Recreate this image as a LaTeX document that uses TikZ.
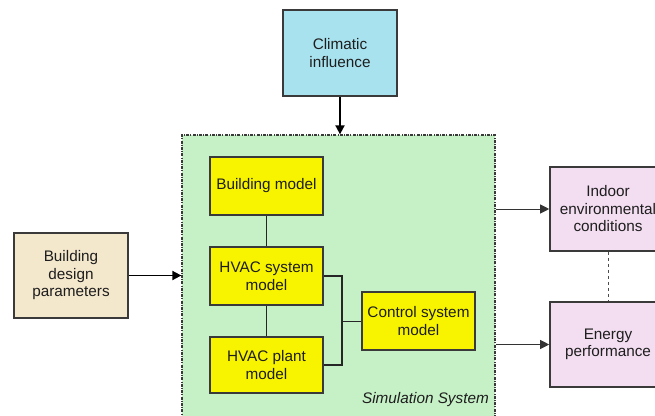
\documentclass[tikz,border=0pt]{standalone}
\usepackage{fontspec}
\setmainfont{Liberation Sans}
\usetikzlibrary{arrows.meta}
\definecolor{climfill}{HTML}{A8E2EE}
\definecolor{bdpfill}{HTML}{F3E7CC}
\definecolor{simfill}{HTML}{C6F0C6}
\definecolor{ylw}{HTML}{F8F400}
\definecolor{pinkfill}{HTML}{F3DDF1}
\definecolor{edge}{HTML}{3A3A3A}
\definecolor{txt}{HTML}{1E1E1E}
\tikzset{
  box/.style={draw=edge, line width=1.6pt, align=center, text=txt, inner sep=1pt,
    font=\fontsize{15.3}{17.5}\selectfont},
  ybox/.style={box, fill=ylw, minimum width=113pt, minimum height=58pt},
  arr/.style={-{Triangle[length=9pt,width=9pt]}, line width=1.8pt, draw=black},
  thinarr/.style={-{Triangle[length=9pt,width=9pt]}, line width=0.9pt, draw=black!80},
  link/.style={line width=1.5pt, draw=black!85},
}
\begin{document}
\begin{tikzpicture}[x=1pt,y=-1pt]
\useasboundingbox (0,0) rectangle (655,415);
\clip (0,0) rectangle (655,415);
\node[draw=edge, fill=simfill, line width=1.3pt,
  dash pattern=on 3pt off 1.2pt on 1pt off 1.2pt,
  minimum width=313pt, minimum height=290pt, inner sep=0pt] (sim) at (338.5,280) {};
\node[box, fill=climfill, minimum width=114pt, minimum height=86pt] (clim) at (340,53) {Climatic\\influence};
\node[box, fill=bdpfill, minimum width=114pt, minimum height=85pt] (bdp) at (71,275.5) {Building\\design\\parameters};
\node[ybox] (bm) at (266.5,186) {Building model};
\node[ybox] (hsm) at (266.5,276) {HVAC system\\model};
\node[ybox, minimum height=56pt] (hpm) at (266.5,365) {HVAC plant\\model};
\node[ybox] (csm) at (418.5,321) {Control system\\model};
\node[box, fill=pinkfill, minimum width=116pt, minimum height=84pt] (ind) at (608,209) {Indoor\\environmental\\conditions};
\node[box, fill=pinkfill, minimum width=116pt, minimum height=85pt] (en) at (608,344.5) {Energy\\performance};
\node[anchor=east, inner sep=0pt, text=txt, font=\fontsize{15.3}{17.5}\selectfont\itshape] (simlab) at (489,400) {Simulation System};
\coordinate (j) at (342,321);
\draw[arr] (clim.south) -- (clim.south |- sim.north);
\draw[arr] (bdp.east) -- (sim.west |- bdp.east);
\draw[thinarr] (sim.east |- ind.west) -- (ind.west);
\draw[thinarr] (sim.east |- en.west) -- (en.west);
\draw[dashed, line width=0.8pt, draw=black!70] (ind.south) -- (en.north);
\draw[link] (bm.south) -- (hsm.north);
\draw[link] (hsm.south) -- (hpm.north);
\draw[link] (hsm.east) -| (j) |- (hpm.east);
\draw[link, line width=1pt] (j) -- (csm.west);
\end{tikzpicture}
\end{document}
